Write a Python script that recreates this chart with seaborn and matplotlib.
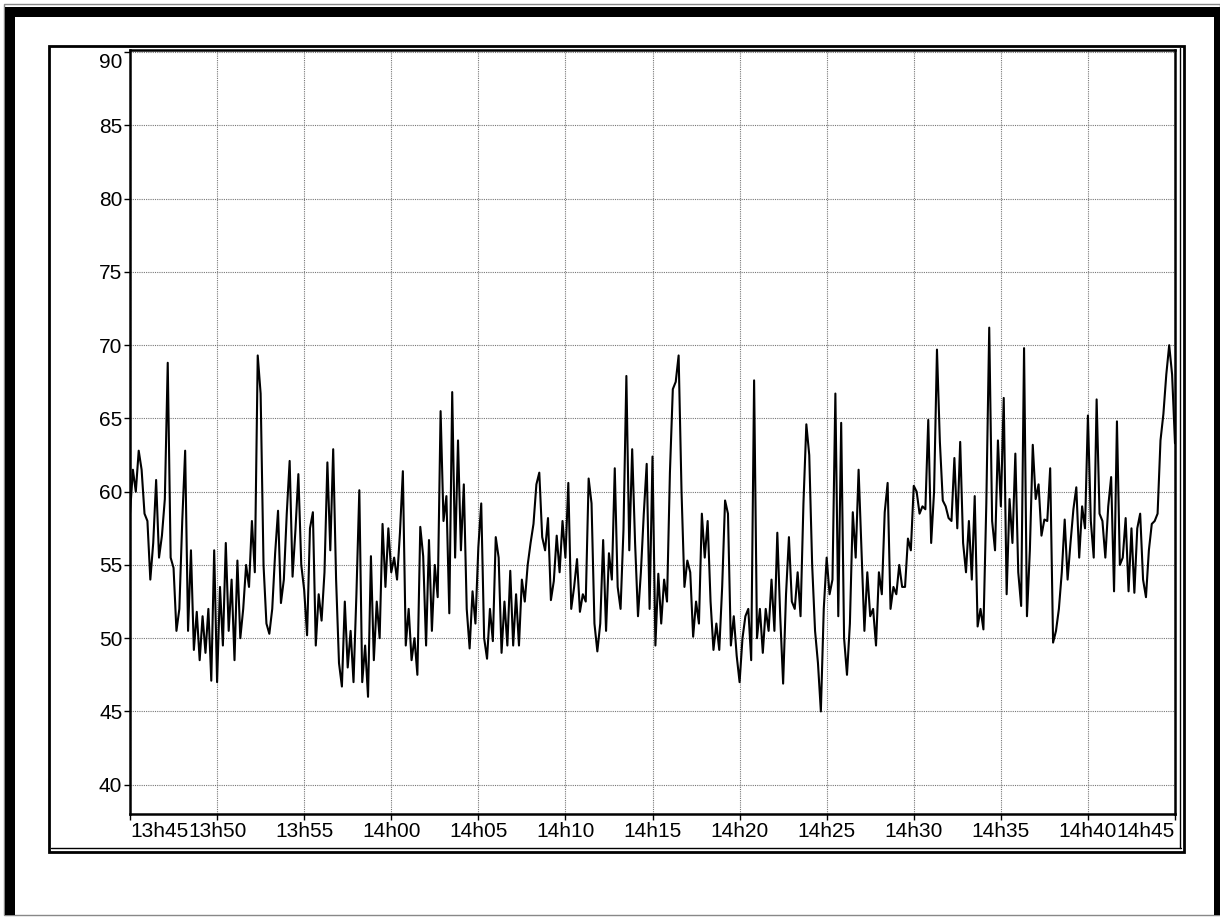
import pandas as pd
import numpy as np
import matplotlib
matplotlib.use('Agg')
import matplotlib.pyplot as plt
import matplotlib.dates as mdates
from matplotlib.patches import Rectangle
from matplotlib.lines import Line2D
from matplotlib.transforms import ScaledTranslation
import seaborn as sns

# --- datos: una lectura cada 10 s entre 13h45 y 14h45 ---
start_time = "2000-01-01 13:45:00"
end_time = "2000-01-01 14:45:00"
step = "10s"

level_values = [
    58.5, 61.5, 60.0, 62.8, 61.5, 58.5, 58.0, 54.0, 56.5, 60.8,
    55.5, 57.0, 59.5, 68.8, 55.5, 54.8, 50.5, 52.0, 58.0, 62.8,
    50.5, 56.0, 49.2, 51.8, 48.5, 51.5, 49.0, 52.0, 47.1, 56.0,
    47.0, 53.5, 49.5, 56.5, 50.5, 54.0, 48.5, 55.3, 50.0, 52.0,
    55.0, 53.5, 58.0, 54.5, 69.3, 66.7, 55.0, 51.0, 50.3, 52.0,
    55.8, 58.7, 52.4, 54.0, 58.5, 62.1, 54.2, 57.4, 61.2, 55.0,
    53.3, 50.2, 57.5, 58.6, 49.5, 53.0, 51.2, 54.5, 62.0, 56.0,
    62.9, 54.0, 48.3, 46.7, 52.5, 48.0, 50.5, 47.0, 53.0, 60.1,
    47.0, 49.5, 46.0, 55.6, 48.5, 52.5, 50.0, 57.8, 53.5, 57.5,
    54.5, 55.5, 54.0, 57.2, 61.4, 49.5, 52.0, 48.5, 50.0, 47.5,
    57.6, 55.6, 49.5, 56.7, 50.5, 55.0, 52.8, 65.5, 58.0, 59.7,
    51.7, 66.8, 55.5, 63.5, 56.0, 60.5, 52.0, 49.3, 53.2, 51.0,
    56.2, 59.2, 50.0, 48.6, 52.0, 49.8, 56.9, 55.5, 49.0, 52.5,
    49.5, 54.6, 49.5, 53.0, 49.5, 54.0, 52.5, 55.0, 56.5, 57.8,
    60.5, 61.3, 56.9, 56.0, 58.2, 52.6, 53.9, 57.0, 54.5, 58.0,
    55.5, 60.6, 52.0, 53.5, 55.4, 51.8, 53.0, 52.5, 60.9, 59.2,
    51.0, 49.1, 51.0, 56.7, 50.5, 55.8, 54.0, 61.6, 53.5, 52.0,
    57.4, 67.9, 56.0, 62.9, 56.5, 51.5, 54.5, 58.5, 61.9, 52.0,
    62.4, 49.5, 54.4, 51.0, 54.0, 52.5, 61.3, 67.0, 67.5, 69.3,
    60.0, 53.5, 55.3, 54.5, 50.1, 52.5, 51.0, 58.5, 55.5, 58.0,
    52.5, 49.2, 51.0, 49.2, 53.5, 59.4, 58.5, 49.5, 51.5, 48.8,
    47.0, 50.0, 51.5, 52.0, 48.5, 67.6, 50.0, 52.0, 49.0, 52.0,
    50.5, 54.0, 50.5, 57.2, 51.5, 46.9, 53.0, 56.9, 52.5, 52.0,
    54.5, 51.5, 59.2, 64.6, 62.5, 55.0, 50.5, 48.3, 45.0, 52.0,
    55.5, 53.0, 54.0, 66.7, 51.5, 64.7, 50.0, 47.5, 51.0, 58.6,
    55.5, 61.5, 56.0, 50.5, 54.5, 51.5, 52.0, 49.5, 54.5, 53.0,
    58.6, 60.6, 52.0, 53.5, 53.0, 55.0, 53.5, 53.5, 56.8, 56.0,
    60.4, 60.0, 58.5, 59.0, 58.8, 64.9, 56.5, 60.0, 69.7, 63.4,
    59.4, 59.0, 58.2, 58.0, 62.3, 57.5, 63.4, 56.5, 54.5, 58.0,
    54.0, 59.7, 50.8, 52.0, 50.6, 59.2, 71.2, 58.0, 56.0, 63.5,
    59.0, 66.4, 53.0, 59.5, 56.5, 62.6, 54.5, 52.2, 69.8, 51.5,
    56.0, 63.2, 59.5, 60.5, 57.0, 58.1, 58.0, 61.6, 49.7, 50.5,
    52.0, 54.5, 58.1, 54.0, 56.5, 58.8, 60.3, 55.5, 59.0, 57.5,
    65.2, 58.0, 55.5, 66.3, 58.5, 58.0, 55.5, 59.0, 61.0, 53.2,
    64.8, 55.0, 55.5, 58.2, 53.2, 57.5, 53.1, 57.5, 58.5, 54.0,
    52.8, 56.0, 57.8, 58.0, 58.5, 63.5, 65.3, 68.0, 70.0, 68.0,
    63.3,
]

y_ticks = [40, 45, 50, 55, 60, 65, 70, 75, 80, 85, 90]
y_limits = (38.0, 90.15)

times = pd.date_range(start_time, periods=len(level_values), freq=step)
df = pd.DataFrame({'Hora': times, 'Nivel': level_values})

W, H = 1220, 917
fig = plt.figure(figsize=(W / 100, H / 100), dpi=100)
sns.set_theme(style="white")
plt.rcParams['font.family'] = ['Liberation Sans', 'DejaVu Sans']

def fx(x):
    return x / W

def fy(y):
    return 1 - y / H

# --- marco exterior (negro grueso arriba/izquierda/derecha) ---
fig.add_artist(Rectangle((fx(4), fy(915)), fx(1216), (911) / H, fill=False,
                         edgecolor='#888888', lw=1, transform=fig.transFigure))
fig.add_artist(Rectangle((fx(5), fy(915)), fx(10), 908 / H, color='black',
                         lw=0, transform=fig.transFigure))
fig.add_artist(Rectangle((fx(5), fy(17)), fx(1215), 10 / H, color='black',
                         lw=0, transform=fig.transFigure))
fig.add_artist(Rectangle((fx(1214), fy(915)), fx(6), 908 / H, color='black',
                         lw=0, transform=fig.transFigure))

# --- marco interior doble ---
fig.add_artist(Rectangle((fx(49), fy(852)), fx(1135), 806 / H, fill=False,
                         edgecolor='black', lw=2, transform=fig.transFigure))
fig.add_artist(Line2D([fx(51), fx(1181)], [fy(848), fy(848)], color='black',
                      lw=1, transform=fig.transFigure))
fig.add_artist(Line2D([fx(1180), fx(1180)], [fy(48), fy(848)], color='black',
                      lw=1, transform=fig.transFigure))

ax = fig.add_axes([fx(130), fy(814), fx(1175 - 130), (814 - 50) / H])
sns.lineplot(data=df, x='Hora', y='Nivel', color='black', lw=1.5, ax=ax)

ax.set_xlim(pd.Timestamp(start_time), pd.Timestamp(end_time))
ax.set_ylim(*y_limits)
ax.set_yticks(y_ticks)
ax.xaxis.set_major_locator(mdates.MinuteLocator(byminute=range(0, 60, 5)))
ax.xaxis.set_major_formatter(mdates.DateFormatter('%Hh%M'))
ax.set_xlabel('')
ax.set_ylabel('')

ax.grid(True, color='#777777', linestyle=(0, (1, 1)), lw=0.8)
for s in ax.spines.values():
    s.set_color('black')
    s.set_linewidth(1.8)
ax.tick_params(axis='both', direction='out', length=4, width=1, color='black',
               labelsize=15, labelcolor='black', pad=1.5,
               bottom=True, left=True)

fig.canvas.draw()
xlabels = ax.get_xticklabels()
xlabels[0].set_horizontalalignment('left')
xlabels[-1].set_horizontalalignment('right')
ylabels = ax.get_yticklabels()
ylabels[-1].set_transform(ylabels[-1].get_transform() +
                          ScaledTranslation(0, -0.08, fig.dpi_scale_trans))

fig.savefig('out.png', dpi=100)
plt.close(fig)
